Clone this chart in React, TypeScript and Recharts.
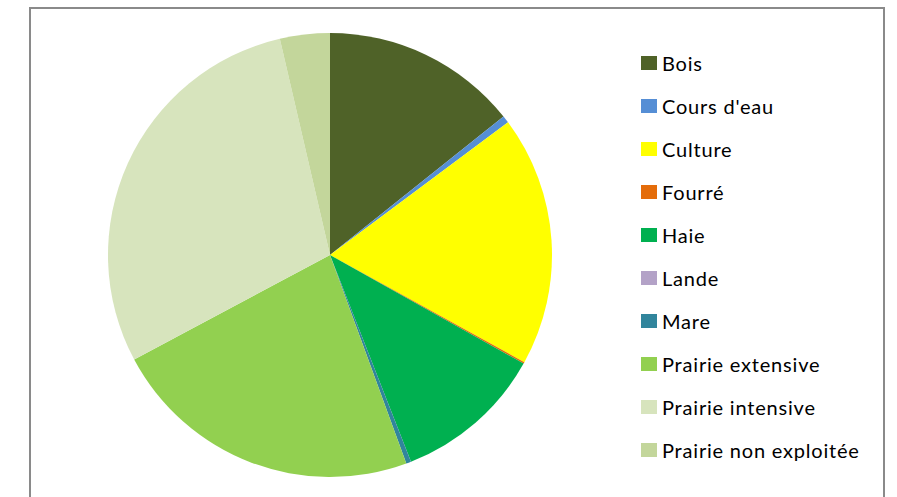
import React from 'react';
import { PieChart, Pie, Cell, Legend } from 'recharts';

const categories = [
  'Bois',
  "Cours d'eau",
  'Culture',
  'Fourré',
  'Haie',
  'Lande',
  'Mare',
  'Prairie extensive',
  'Prairie intensive',
  'Prairie non exploitée',
];

const shares = [14.28, 0.53, 18.22, 0.11, 10.92, 0, 0.36, 22.78, 29.18, 3.63];

const colors = [
  '#4F6228',
  '#558ED5',
  '#FFFF00',
  '#E46C0A',
  '#00B050',
  '#B3A2C7',
  '#31859C',
  '#92D050',
  '#D7E4BD',
  '#C3D69B',
];

const data = categories.map((name, i) => ({ name, value: shares[i] }));

const font = 'Lato, "Open Sans", sans-serif';

const LegendList = () => (
  <div style={{ fontFamily: font, fontSize: 20, letterSpacing: 0.8, color: '#000' }}>
    {categories.map((name, i) => (
      <div
        key={name}
        style={{ display: 'flex', alignItems: 'center', height: 43 }}
      >
        <span
          style={{
            display: 'inline-block',
            width: 16,
            height: 14,
            background: colors[i],
            marginRight: 5,
          }}
        />
        <span style={{ whiteSpace: 'nowrap' }}>{name}</span>
      </div>
    ))}
  </div>
);

export default function App() {
  return (
    <div style={{ position: 'absolute', left: 0, top: 0, width: 897, height: 497, overflow: 'hidden', background: '#fff' }}>
      <div
        style={{
          position: 'absolute',
          left: 29,
          top: 7,
          width: 856,
          height: 520,
          border: '2px solid #8a8a8a',
          boxSizing: 'border-box',
        }}
      />
      <PieChart
        width={897}
        height={497}
        margin={{ top: 0, right: 0, bottom: 0, left: 0 }}
        style={{ position: 'absolute', left: 0, top: 0 }}
      >
        <Pie
          data={data}
          dataKey="value"
          nameKey="name"
          cx={330}
          cy={255}
          outerRadius={222}
          startAngle={90}
          endAngle={-270}
          stroke="none"
          isAnimationActive={false}
        >
          {data.map((d, i) => (
            <Cell key={d.name} fill={colors[i]} />
          ))}
        </Pie>
        <Legend
          content={<LegendList />}
          wrapperStyle={{ position: 'absolute', left: 641, top: 41.5, width: 240 }}
        />
      </PieChart>
    </div>
  );
}
